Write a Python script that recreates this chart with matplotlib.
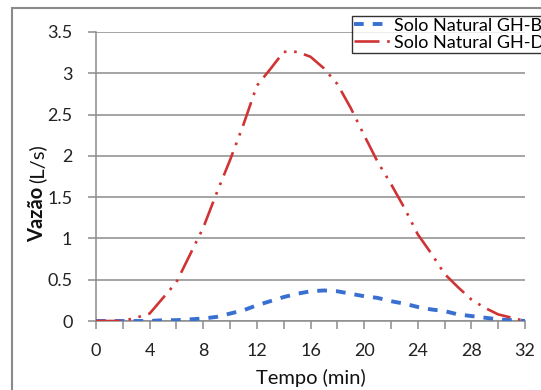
import matplotlib
matplotlib.use("Agg")
import matplotlib.pyplot as plt
from matplotlib.patches import Rectangle

# tempo (min) and vazão (L/s)
tempo = list(range(0, 33))
gh_b = [0, 0, 0, 0, 0, 0.01, 0.01, 0.02, 0.03, 0.05, 0.09, 0.13, 0.19, 0.24,
        0.29, 0.33, 0.36, 0.37, 0.36, 0.33, 0.30, 0.28, 0.24, 0.21, 0.17, 0.14,
        0.12, 0.08, 0.06, 0.04, 0.02, 0.01, 0]
gh_d = [0, 0, 0, 0.04, 0.09, 0.28, 0.47, 0.80, 1.13, 1.55, 1.95, 2.38, 2.85,
        3.05, 3.26, 3.26, 3.20, 3.06, 2.87, 2.58, 2.25, 1.93, 1.66, 1.37, 1.05,
        0.82, 0.57, 0.41, 0.26, 0.16, 0.08, 0.04, 0]
labels = ["Solo Natural GH-B", "Solo Natural GH-D"]
xticks = list(range(0, 33, 2))
yticks = [0, 0.5, 1, 1.5, 2, 2.5, 3, 3.5]

plt.rcParams["font.family"] = ["Lato", "DejaVu Sans"]
plt.rcParams["lines.scale_dashes"] = False

W, H = 541, 390
fig = plt.figure(figsize=(W / 100, H / 100), dpi=100)
ax = fig.add_axes([96 / W, 1 - 321 / H, (525 - 96) / W, (321 - 32) / H])

grey = "#8c8c8c"
ax.plot(tempo, gh_b, color="#3a6fd2", lw=2.8, linestyle=(0, (7, 6.5)),
        label=labels[0], zorder=3)
ax.plot(tempo, gh_d, color="#d03333", lw=1.9,
        linestyle=(0, (18, 5.5, 1.9, 5.5, 1.9, 5.5)), label=labels[1], zorder=3)

ax.set_xlim(0, 32)
ax.set_ylim(0, 3.5)
ax.set_xticks(xticks)
ax.set_xticklabels([str(t) if t % 4 == 0 else "" for t in xticks])
ax.set_yticks(yticks)
ax.set_yticklabels(["0", "0.5", "1", "1.5", "2", "2.5", "3", "3.5"])
ax.grid(axis="y", color=grey, lw=1.1)
ax.set_axisbelow(True)
for s in ["top", "right"]:
    ax.spines[s].set_visible(False)
for s in ["left", "bottom"]:
    ax.spines[s].set_color(grey)
    ax.spines[s].set_linewidth(1.1)
ax.tick_params(axis="both", direction="out", length=6, width=1.1,
               color=grey, labelsize=13, labelcolor="#222222")
ax.tick_params(axis="x", pad=10)
ax.tick_params(axis="y", pad=11)

ax.set_xlabel("Tempo (min)", fontsize=14.5, labelpad=7, color="#111111")
fig.text(43 / W, 1 - 187 / H, "Vazão", rotation=90, rotation_mode="anchor",
         fontsize=14.5, fontweight="bold", ha="right", va="baseline",
         color="#111111")
fig.text(43 / W, 1 - 183 / H, "(L/s)", rotation=90, rotation_mode="anchor",
         fontsize=14.5, ha="left", va="baseline", color="#111111")

# outer chart border (runs past the right and bottom edges)
fig.patches.append(Rectangle((12 / W, -0.05), 1.2, 1 - 8 / H + 0.05,
                             transform=fig.transFigure, fill=False,
                             edgecolor="#8a8a8a", lw=1.5))

# the legend box runs past the right edge, as in the reference
leg = fig.legend(loc="upper left", bbox_to_anchor=(352 / W, 1 - 16 / H),
                 frameon=True, fancybox=False, fontsize=13,
                 handlelength=2.0, handletextpad=0.25, borderpad=0.1,
                 labelspacing=0.05, borderaxespad=0)
leg.get_frame().set_edgecolor("black")
leg.get_frame().set_linewidth(1.0)

fig.savefig("out.png", dpi=100)
